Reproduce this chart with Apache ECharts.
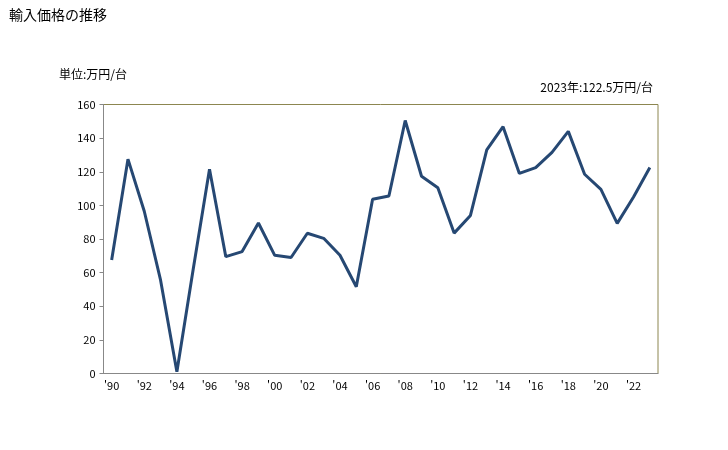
<!DOCTYPE html>
<html lang="ja">
<head>
  <meta charset="UTF-8">
  <title>輸入価格の推移</title>
  <script src="https://cdn.jsdelivr.net/npm/echarts@6/dist/echarts.min.js"></script>
  <style>
    * { margin: 0; padding: 0; }
    #main { width: 728px; height: 450px; }
  </style>
</head>
<body>
  <div id="main"></div>
  <script>
    // 年（横軸ラベル）
    var years = ["'90","'91","'92","'93","'94","'95","'96","'97","'98","'99",
                 "'00","'01","'02","'03","'04","'05","'06","'07","'08","'09",
                 "'10","'11","'12","'13","'14","'15","'16","'17","'18","'19",
                 "'20","'21","'22","'23"];
    // 輸入価格（万円/台）
    var prices = [67.5, 127.5, 96.5, 55.5, 1, 62, 121.5, 69.5, 72.5, 89.5,
                  70.3, 69, 83.4, 80.4, 70.3, 51.6, 103.6, 105.6, 150.5, 117.3,
                  110.5, 83.5, 94, 133, 146.8, 119, 122.5, 131.5, 144, 118.5,
                  109.5, 89.3, 105, 122.5];
    var yTicks = [0, 20, 40, 60, 80, 100, 120, 140, 160];

    var font = '"MS PGothic", "Noto Sans CJK JP", sans-serif';
    var myChart = echarts.init(document.getElementById('main'));
    var option = {
      animation: false,
      title: [
        { text: '輸入価格の推移', left: 4, top: 3,
          textStyle: { fontSize: 14, fontWeight: 'normal', color: '#000', fontFamily: font } },
        { text: '単位:万円/台', left: 54, top: 63,
          textStyle: { fontSize: 12, fontWeight: 'normal', color: '#000', fontFamily: font } },
        { text: '2023年:122.5万円/台', right: 70, top: 76,
          textStyle: { fontSize: 12, fontWeight: 'normal', color: '#000', fontFamily: font } }
      ],
      grid: {
        left: 103.5, right: 70, top: 104.5, bottom: 76.5,
        show: true, borderColor: '#8c8650', borderWidth: 1, backgroundColor: '#fff'
      },
      xAxis: {
        type: 'category',
        data: years,
        boundaryGap: true,
        axisLine: { lineStyle: { color: '#888', width: 1 } },
        axisTick: { show: false },
        axisLabel: { interval: 1, color: '#000', fontSize: 11, fontFamily: font, margin: 7 }
      },
      yAxis: {
        type: 'value',
        min: yTicks[0], max: yTicks[yTicks.length - 1], interval: 20,
        splitLine: { show: false },
        axisLine: { show: true, lineStyle: { color: '#888', width: 1 } },
        axisTick: { show: true, length: 4, lineStyle: { color: '#888' } },
        axisLabel: { color: '#000', fontSize: 11, fontFamily: font, margin: 8 }
      },
      series: [{
        type: 'line',
        data: prices,
        symbol: 'none',
        lineStyle: { color: '#264873', width: 3 }
      }]
    };
    myChart.setOption(option);
  </script>
</body>
</html>
